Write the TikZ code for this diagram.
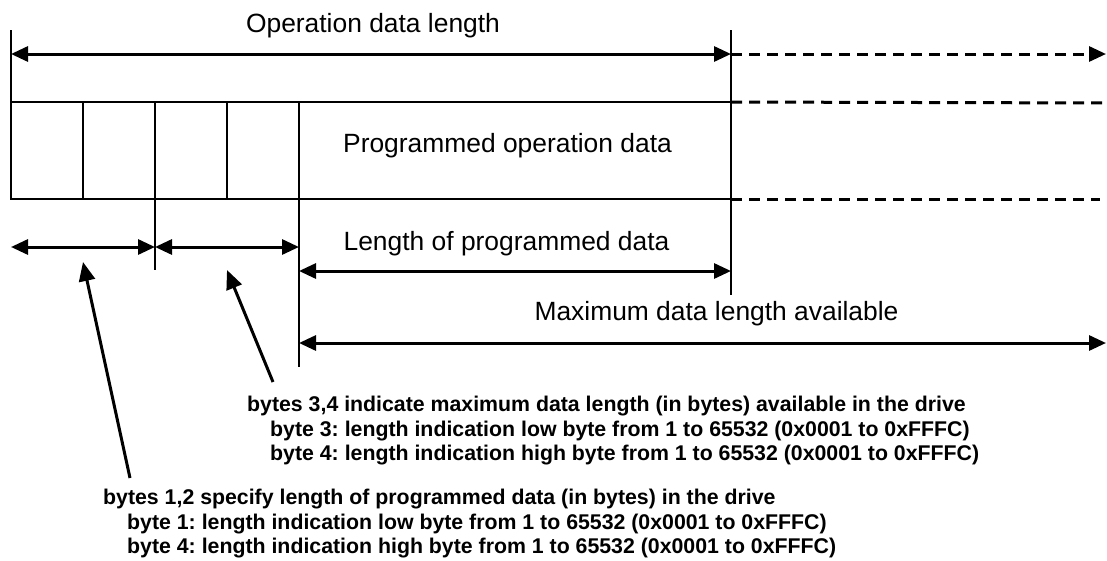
\documentclass[tikz,border=0pt]{standalone}
\usepackage{fontspec}
\setmainfont{Liberation Sans}
\usetikzlibrary{arrows.meta}
\frenchspacing

\begin{document}
\begin{tikzpicture}[
  x=1pt,y=-1pt,
  cell/.style={draw,line width=2pt,inner sep=0pt,outer sep=0pt,anchor=north west,
               minimum width=72pt,minimum height=97pt},
  lbl/.style={font=\fontsize{26.4}{30}\selectfont,inner sep=0pt,anchor=base},
  note/.style={font=\fontsize{21.3}{24.5}\selectfont\bfseries,inner sep=0pt,
               anchor=north west,align=left},
  dim/.style={{Triangle[length=17pt,width=15pt]}-{Triangle[length=17pt,width=15pt]},line width=3pt},
  ext/.style={-{Triangle[length=17pt,width=15pt]},line width=3pt,dash pattern=on 11pt off 7pt},
  ptr/.style={-{Triangle[length=19pt,width=16pt]},line width=3pt},
  thin/.style={line width=1.3pt}
]
\useasboundingbox (0,0) rectangle (1107,560);

% record and its bytes
\node[cell] (b1) at (11,102) {};
\node[cell] (b2) at (83,102) {};
\node[cell] (b3) at (155,102) {};
\node[cell] (b4) at (227,102) {};
\node[cell,minimum width=432pt] (data) at (299,102) {};
\node[lbl] (datatxt) at (507.5,152) {Programmed operation data};

% extension lines
\coordinate (opL) at (11,30);
\coordinate (opR) at (731,30);
\coordinate (opRb) at (731,295);
\coordinate (mid) at (155,270);
\coordinate (progL) at (299,367);
\draw[thin] (opL) -- (b1.north west);
\draw[thin] (opR) -- (opRb);
\draw[thin] (b3.south west) -- (mid);
\draw[thin,line width=1.6pt] (b4.south east) -- (progL);

% dashed continuation
\coordinate (topEnd) at (1107,103);
\coordinate (botEnd) at (1100,199);
\draw[line width=3pt,dash pattern=on 11pt off 7pt] (data.north east) -- (topEnd);
\draw[line width=3pt,dash pattern=on 11pt off 7pt] (data.south east) -- (botEnd);

% dimensions
\node[lbl] (oplen) at (373,32) {Operation data length};
\coordinate (a1) at (11,54);
\coordinate (a2) at (731,54);
\coordinate (a3) at (1106,54);
\draw[dim] (a1) -- (a2);
\draw[ext] (a2) -- (a3);

\coordinate (s1) at (11,247);
\coordinate (s2) at (155,247);
\coordinate (s3) at (299,247);
\draw[dim] (s1) -- (s2);
\draw[dim] (s2) -- (s3);

\node[lbl] (proglen) at (506.5,250) {Length of programmed data};
\coordinate (p1) at (299,271);
\coordinate (p2) at (731,271);
\draw[dim] (p1) -- (p2);

\node[lbl] (maxlen) at (716.5,320) {Maximum data length available};
\coordinate (m1) at (299,343);
\coordinate (m2) at (1106,343);
\draw[dim] (m1) -- (m2);

% notes
\node[note] (note34) at (247,396) {bytes 3,4 indicate maximum data length (in bytes) available in the drive\\
  \hspace*{23pt}byte 3: length indication low byte from 1 to 65532 (0x0001 to 0xFFFC)\\
  \hspace*{23pt}byte 4: length indication high byte from 1 to 65532 (0x0001 to 0xFFFC)};
\node[note] (note12) at (103,489) {bytes 1,2 specify length of programmed data (in bytes) in the drive\\
  \hspace*{24pt}byte 1: length indication low byte from 1 to 65532 (0x0001 to 0xFFFC)\\
  \hspace*{24pt}byte 4: length indication high byte from 1 to 65532 (0x0001 to 0xFFFC)};

\coordinate (t34) at (273,382);
\coordinate (h34) at (227,270);
\coordinate (t12) at (130,478);
\coordinate (h12) at (83,262);
\draw[ptr] (t34) -- (h34);
\draw[ptr] (t12) -- (h12);
\end{tikzpicture}
\end{document}
